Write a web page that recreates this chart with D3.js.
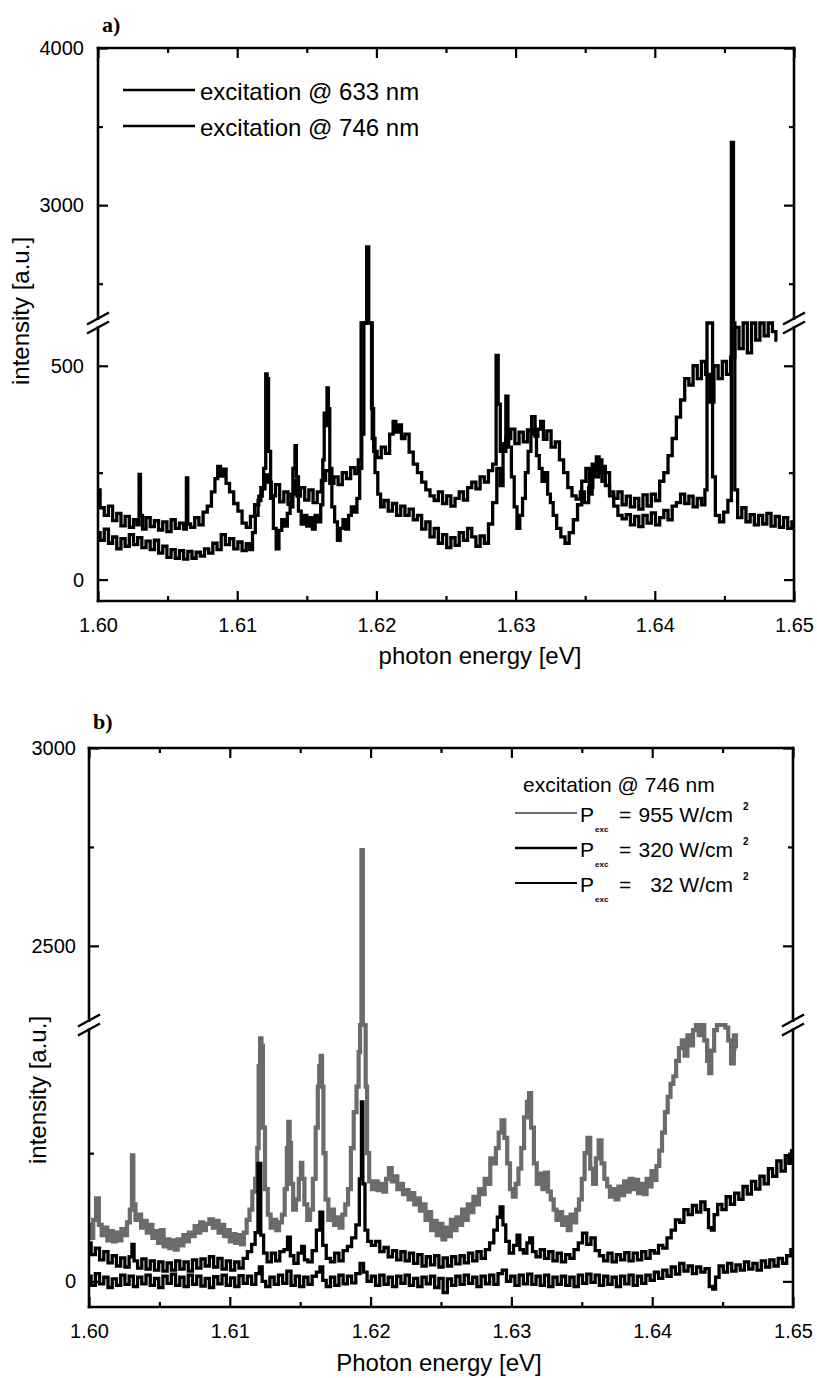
<!DOCTYPE html>
<html lang="en">
<head>
<meta charset="UTF-8">
<title>PL spectra</title>
<style>
    body {
        margin: 0;
        background-color: #fff;
    }
    svg text {
        font-family: "Liberation Sans", Arial, sans-serif;
        fill: #000;
    }
</style>
</head>
<body>
<svg id="chart" width="817" height="1378"></svg>

<script src="https://d3js.org/d3.v7.min.js"></script>
<script>
    // x axis (shared)
    const xTicks = [1.60, 1.61, 1.62, 1.63, 1.64, 1.65];
    const xMinorTicks = [1.605, 1.615, 1.625, 1.635, 1.645];

    // panel a: broken y axis
    const aLowTicks = [0, 500];
    const aLowMinor = [250];
    const aHighTicks = [3000, 4000];
    const aHighMinor = [2500, 3500];

    // panel b: broken y axis
    const bLowTicks = [0];
    const bLowMinor = [250];
    const bHighTicks = [2500, 3000];
    const bHighMinor = [2750];

    const aLegend = ["excitation @ 633 nm", "excitation @ 746 nm"];
    const bLegendTitle = "excitation @ 746 nm";
    const bPowers = ["955", "320", "32"];

    // panel a, excitation 633 nm  [photon energy eV, intensity]
    const a633 = [[1.6000,210],[1.6003,168],[1.6006,150],[1.6009,172],[1.6012,138],[1.6015,155],[1.6018,126],[1.6021,148],[1.6024,122],[1.6027,140],[1.6029,128],[1.6030,246],[1.6031,150],[1.6033,118],[1.6036,145],[1.6039,124],[1.6042,138],[1.6045,116],[1.6048,135],[1.6051,112],[1.6054,140],[1.6057,120],[1.6060,132],[1.6063,118],[1.6064,238],[1.6065,130],[1.6068,122],[1.6071,145],[1.6074,128],[1.6077,158],[1.6080,172],[1.6083,205],[1.6085,236],[1.6087,265],[1.6089,242],[1.6091,258],[1.6093,225],[1.6096,205],[1.6099,178],[1.6102,160],[1.6105,132],[1.6108,122],[1.6111,148],[1.6114,175],[1.6117,195],[1.6119,212],[1.6121,245],[1.6123,228],[1.6126,196],[1.6129,222],[1.6132,182],[1.6135,205],[1.6138,176],[1.6140,200],[1.6142,232],[1.6144,195],[1.6147,215],[1.6150,186],[1.6153,210],[1.6156,180],[1.6159,205],[1.6162,232],[1.6165,255],[1.6168,225],[1.6171,240],[1.6174,222],[1.6177,250],[1.6180,236],[1.6183,262],[1.6186,248],[1.6188,280],[1.6190,650],[1.6193,700],[1.6196,640],[1.6197,400],[1.6199,300],[1.6202,285],[1.6205,310],[1.6208,295],[1.6211,340],[1.6213,370],[1.6215,345],[1.6217,362],[1.6219,330],[1.6222,340],[1.6225,298],[1.6228,270],[1.6231,250],[1.6234,228],[1.6237,210],[1.6240,196],[1.6243,185],[1.6246,205],[1.6249,178],[1.6252,196],[1.6255,172],[1.6258,190],[1.6261,205],[1.6264,186],[1.6267,215],[1.6270,228],[1.6273,212],[1.6276,240],[1.6279,228],[1.6282,255],[1.6285,270],[1.6287,524],[1.6288,410],[1.6290,300],[1.6292,318],[1.6294,429],[1.6295,330],[1.6298,352],[1.6301,318],[1.6304,345],[1.6307,322],[1.6310,350],[1.6313,381],[1.6315,335],[1.6317,352],[1.6319,370],[1.6321,328],[1.6324,348],[1.6327,310],[1.6330,322],[1.6333,280],[1.6336,250],[1.6339,215],[1.6342,196],[1.6345,188],[1.6348,205],[1.6351,180],[1.6354,215],[1.6357,252],[1.6359,287],[1.6361,250],[1.6363,265],[1.6366,220],[1.6369,196],[1.6372,172],[1.6375,150],[1.6378,142],[1.6381,152],[1.6384,128],[1.6387,148],[1.6390,124],[1.6393,150],[1.6396,132],[1.6399,156],[1.6402,128],[1.6405,145],[1.6408,162],[1.6411,140],[1.6414,172],[1.6417,180],[1.6420,200],[1.6423,178],[1.6426,195],[1.6429,170],[1.6432,190],[1.6435,175],[1.6437,210],[1.6438,650],[1.6441,680],[1.6442,240],[1.6445,150],[1.6448,135],[1.6451,158],[1.6454,185],[1.6456,3400],[1.6457,600],[1.6458,210],[1.6461,145],[1.6464,168],[1.6467,135],[1.6470,152],[1.6473,128],[1.6476,150],[1.6479,130],[1.6482,155],[1.6485,125],[1.6488,148],[1.6491,122],[1.6494,145],[1.6497,120],[1.6500,135]];

    // panel a, excitation 746 nm
    const a746 = [[1.6000,110],[1.6003,92],[1.6006,118],[1.6009,85],[1.6012,100],[1.6015,72],[1.6018,96],[1.6021,78],[1.6024,105],[1.6027,82],[1.6030,98],[1.6033,75],[1.6036,90],[1.6039,70],[1.6042,92],[1.6045,62],[1.6048,78],[1.6051,52],[1.6054,70],[1.6057,50],[1.6060,68],[1.6063,48],[1.6066,66],[1.6069,50],[1.6072,64],[1.6075,55],[1.6078,72],[1.6081,62],[1.6084,85],[1.6087,70],[1.6090,105],[1.6093,82],[1.6096,96],[1.6099,72],[1.6102,88],[1.6105,68],[1.6108,84],[1.6110,70],[1.6112,110],[1.6114,150],[1.6116,185],[1.6118,215],[1.6120,260],[1.6121,481],[1.6122,470],[1.6123,300],[1.6125,190],[1.6127,120],[1.6129,72],[1.6131,115],[1.6133,140],[1.6135,125],[1.6137,155],[1.6139,170],[1.6141,260],[1.6142,313],[1.6143,240],[1.6145,160],[1.6147,130],[1.6149,150],[1.6151,125],[1.6153,145],[1.6155,118],[1.6157,150],[1.6159,135],[1.6161,175],[1.6162,280],[1.6163,389],[1.6164,360],[1.6165,448],[1.6166,400],[1.6167,260],[1.6169,170],[1.6171,135],[1.6173,92],[1.6175,120],[1.6177,140],[1.6179,118],[1.6181,150],[1.6183,170],[1.6185,158],[1.6187,190],[1.6189,260],[1.6190,340],[1.6192,650],[1.6194,2734],[1.6195,900],[1.6196,650],[1.6198,330],[1.6200,250],[1.6202,200],[1.6204,170],[1.6207,185],[1.6210,160],[1.6213,178],[1.6216,150],[1.6219,172],[1.6222,150],[1.6225,165],[1.6228,140],[1.6231,150],[1.6234,118],[1.6237,135],[1.6240,100],[1.6243,120],[1.6246,85],[1.6249,105],[1.6252,75],[1.6255,98],[1.6258,80],[1.6261,110],[1.6264,92],[1.6267,120],[1.6270,100],[1.6273,78],[1.6276,102],[1.6279,85],[1.6282,130],[1.6285,180],[1.6288,260],[1.6290,220],[1.6292,300],[1.6294,330],[1.6296,310],[1.6298,240],[1.6300,170],[1.6302,120],[1.6304,150],[1.6306,190],[1.6308,250],[1.6310,300],[1.6312,350],[1.6314,340],[1.6316,290],[1.6318,260],[1.6320,230],[1.6322,250],[1.6324,200],[1.6326,180],[1.6328,150],[1.6331,120],[1.6334,100],[1.6337,85],[1.6340,110],[1.6343,140],[1.6346,175],[1.6349,230],[1.6352,260],[1.6354,200],[1.6356,270],[1.6358,240],[1.6361,280],[1.6363,230],[1.6366,250],[1.6369,205],[1.6372,190],[1.6375,205],[1.6378,175],[1.6381,195],[1.6384,170],[1.6387,190],[1.6390,165],[1.6393,198],[1.6396,172],[1.6399,200],[1.6402,185],[1.6405,230],[1.6408,250],[1.6411,290],[1.6414,330],[1.6417,380],[1.6420,420],[1.6423,470],[1.6426,455],[1.6429,500],[1.6432,470],[1.6435,510],[1.6438,480],[1.6441,415],[1.6444,500],[1.6447,470],[1.6450,510],[1.6453,480],[1.6456,520],[1.6459,590],[1.6462,540],[1.6465,600],[1.6468,530],[1.6471,620],[1.6474,560],[1.6477,620],[1.6480,570],[1.6483,610],[1.6486,580],[1.6488,560]];

    // panel b, 746 nm at 955 W/cm2
    const b955 = [[1.6000,110],[1.6002,85],[1.6004,120],[1.6006,162],[1.6008,110],[1.6010,90],[1.6012,105],[1.6014,80],[1.6016,98],[1.6018,78],[1.6020,95],[1.6022,80],[1.6024,102],[1.6026,90],[1.6028,115],[1.6030,140],[1.6031,246],[1.6032,150],[1.6034,120],[1.6036,130],[1.6038,105],[1.6040,118],[1.6042,95],[1.6044,110],[1.6046,85],[1.6048,98],[1.6050,75],[1.6052,100],[1.6054,68],[1.6056,82],[1.6058,65],[1.6060,80],[1.6062,62],[1.6064,82],[1.6066,70],[1.6068,90],[1.6070,78],[1.6072,95],[1.6074,88],[1.6076,108],[1.6078,95],[1.6080,115],[1.6082,100],[1.6084,112],[1.6087,121],[1.6089,105],[1.6091,118],[1.6093,95],[1.6095,110],[1.6097,88],[1.6099,100],[1.6101,78],[1.6103,92],[1.6105,75],[1.6107,90],[1.6109,72],[1.6111,95],[1.6113,120],[1.6115,140],[1.6117,175],[1.6119,200],[1.6120,260],[1.6121,420],[1.6122,474],[1.6123,460],[1.6124,300],[1.6126,180],[1.6128,130],[1.6130,105],[1.6132,120],[1.6134,100],[1.6136,115],[1.6138,130],[1.6140,180],[1.6141,260],[1.6142,311],[1.6143,270],[1.6144,190],[1.6146,140],[1.6148,160],[1.6150,200],[1.6151,231],[1.6152,200],[1.6154,150],[1.6156,120],[1.6158,140],[1.6160,200],[1.6162,300],[1.6163,380],[1.6164,420],[1.6165,440],[1.6166,380],[1.6167,250],[1.6169,160],[1.6171,120],[1.6173,140],[1.6175,110],[1.6177,125],[1.6179,105],[1.6181,130],[1.6183,150],[1.6185,180],[1.6187,260],[1.6189,330],[1.6191,380],[1.6192,447],[1.6193,560],[1.6194,2742],[1.6195,900],[1.6196,560],[1.6197,380],[1.6198,250],[1.6200,195],[1.6202,180],[1.6204,195],[1.6206,178],[1.6208,190],[1.6210,175],[1.6212,200],[1.6214,221],[1.6216,195],[1.6218,205],[1.6220,180],[1.6222,190],[1.6224,170],[1.6226,178],[1.6228,160],[1.6230,172],[1.6232,150],[1.6234,162],[1.6236,138],[1.6238,150],[1.6240,120],[1.6242,135],[1.6244,100],[1.6246,118],[1.6248,90],[1.6250,112],[1.6252,82],[1.6254,105],[1.6256,88],[1.6258,120],[1.6260,100],[1.6262,125],[1.6264,110],[1.6266,140],[1.6268,120],[1.6270,150],[1.6272,135],[1.6274,165],[1.6276,150],[1.6278,180],[1.6280,170],[1.6282,200],[1.6284,190],[1.6286,240],[1.6288,230],[1.6290,260],[1.6292,290],[1.6294,314],[1.6296,280],[1.6298,230],[1.6300,180],[1.6302,165],[1.6304,190],[1.6306,220],[1.6308,260],[1.6310,320],[1.6312,350],[1.6313,367],[1.6315,300],[1.6317,230],[1.6319,190],[1.6321,210],[1.6323,180],[1.6325,212],[1.6327,175],[1.6329,160],[1.6331,140],[1.6333,120],[1.6335,135],[1.6337,110],[1.6339,125],[1.6341,100],[1.6343,130],[1.6345,115],[1.6347,140],[1.6349,160],[1.6351,200],[1.6353,250],[1.6355,280],[1.6357,220],[1.6359,190],[1.6361,240],[1.6363,275],[1.6365,230],[1.6367,200],[1.6369,185],[1.6371,165],[1.6373,180],[1.6375,160],[1.6377,185],[1.6379,168],[1.6381,195],[1.6383,175],[1.6385,200],[1.6387,180],[1.6389,198],[1.6391,172],[1.6393,190],[1.6395,170],[1.6397,200],[1.6399,185],[1.6400,215],[1.6402,198],[1.6404,225],[1.6406,255],[1.6408,290],[1.6410,330],[1.6412,360],[1.6414,385],[1.6416,400],[1.6418,430],[1.6420,455],[1.6422,470],[1.6424,440],[1.6426,480],[1.6428,460],[1.6430,490],[1.6432,510],[1.6434,480],[1.6436,500],[1.6438,470],[1.6440,430],[1.6441,406],[1.6443,450],[1.6445,490],[1.6447,520],[1.6449,500],[1.6451,530],[1.6453,495],[1.6455,470],[1.6457,425],[1.6459,480],[1.6460,455]];

    // panel b, 746 nm at 320 W/cm2
    const b320 = [[1.6000,75],[1.6003,52],[1.6006,65],[1.6009,42],[1.6012,58],[1.6015,36],[1.6018,50],[1.6021,30],[1.6024,46],[1.6027,28],[1.6030,48],[1.6031,72],[1.6033,40],[1.6036,26],[1.6039,44],[1.6042,24],[1.6045,40],[1.6048,22],[1.6051,38],[1.6054,20],[1.6057,36],[1.6060,22],[1.6063,40],[1.6066,24],[1.6069,38],[1.6072,20],[1.6075,42],[1.6078,26],[1.6081,44],[1.6084,30],[1.6087,48],[1.6090,28],[1.6093,45],[1.6096,24],[1.6099,40],[1.6102,22],[1.6105,38],[1.6108,26],[1.6111,45],[1.6114,58],[1.6117,72],[1.6119,95],[1.6121,230],[1.6123,90],[1.6125,55],[1.6128,38],[1.6131,55],[1.6134,40],[1.6137,58],[1.6140,62],[1.6142,86],[1.6144,50],[1.6147,35],[1.6150,55],[1.6152,68],[1.6154,42],[1.6157,38],[1.6160,60],[1.6163,100],[1.6165,135],[1.6167,70],[1.6170,45],[1.6173,38],[1.6176,55],[1.6179,40],[1.6182,60],[1.6185,68],[1.6188,85],[1.6191,110],[1.6193,200],[1.6194,350],[1.6195,190],[1.6197,100],[1.6199,78],[1.6202,70],[1.6205,78],[1.6208,58],[1.6211,66],[1.6214,48],[1.6217,60],[1.6220,42],[1.6223,58],[1.6226,40],[1.6229,55],[1.6232,35],[1.6235,52],[1.6238,30],[1.6241,48],[1.6244,32],[1.6247,50],[1.6250,28],[1.6253,46],[1.6256,30],[1.6259,48],[1.6262,34],[1.6265,50],[1.6268,36],[1.6271,55],[1.6274,40],[1.6277,58],[1.6280,45],[1.6283,62],[1.6286,75],[1.6289,100],[1.6291,125],[1.6293,145],[1.6295,110],[1.6297,78],[1.6300,55],[1.6303,70],[1.6305,90],[1.6307,62],[1.6310,55],[1.6312,75],[1.6314,85],[1.6316,58],[1.6319,48],[1.6322,62],[1.6325,45],[1.6328,58],[1.6331,40],[1.6334,55],[1.6337,38],[1.6340,52],[1.6343,45],[1.6346,62],[1.6349,75],[1.6352,94],[1.6355,72],[1.6358,85],[1.6361,60],[1.6364,50],[1.6367,40],[1.6370,55],[1.6373,38],[1.6376,52],[1.6379,42],[1.6382,56],[1.6385,40],[1.6388,55],[1.6391,42],[1.6394,58],[1.6397,45],[1.6400,60],[1.6403,55],[1.6406,70],[1.6409,65],[1.6412,85],[1.6415,100],[1.6418,120],[1.6421,115],[1.6424,140],[1.6427,130],[1.6430,148],[1.6433,135],[1.6436,155],[1.6439,140],[1.6441,105],[1.6443,100],[1.6445,130],[1.6448,150],[1.6451,140],[1.6454,165],[1.6457,150],[1.6460,172],[1.6463,160],[1.6466,185],[1.6469,170],[1.6472,195],[1.6475,180],[1.6478,205],[1.6481,190],[1.6484,220],[1.6487,205],[1.6490,235],[1.6493,215],[1.6496,245],[1.6498,230],[1.6500,255]];

    // panel b, 746 nm at 32 W/cm2
    const b32 = [[1.6000,10],[1.6003,-8],[1.6006,15],[1.6009,-5],[1.6012,8],[1.6015,-12],[1.6018,5],[1.6021,-8],[1.6024,12],[1.6027,-6],[1.6030,10],[1.6033,-10],[1.6036,8],[1.6039,-5],[1.6042,12],[1.6045,-8],[1.6048,6],[1.6051,-12],[1.6054,10],[1.6057,-4],[1.6060,14],[1.6063,-8],[1.6066,8],[1.6069,-10],[1.6072,12],[1.6075,-6],[1.6078,10],[1.6081,-9],[1.6084,6],[1.6087,-12],[1.6090,9],[1.6093,-5],[1.6096,12],[1.6099,-8],[1.6102,7],[1.6105,-10],[1.6108,11],[1.6111,-4],[1.6114,10],[1.6117,-6],[1.6120,15],[1.6122,28],[1.6124,0],[1.6127,-10],[1.6130,8],[1.6133,-6],[1.6136,12],[1.6139,-4],[1.6142,20],[1.6145,-8],[1.6148,10],[1.6151,-10],[1.6154,8],[1.6157,-6],[1.6160,10],[1.6163,18],[1.6165,28],[1.6167,2],[1.6170,-10],[1.6173,8],[1.6176,-8],[1.6179,12],[1.6182,-5],[1.6185,10],[1.6188,-3],[1.6191,15],[1.6194,35],[1.6196,18],[1.6199,0],[1.6202,10],[1.6205,-8],[1.6208,12],[1.6211,-6],[1.6214,8],[1.6217,-10],[1.6220,10],[1.6223,-4],[1.6226,12],[1.6229,-8],[1.6232,6],[1.6235,-10],[1.6238,8],[1.6241,-5],[1.6244,10],[1.6247,-12],[1.6250,6],[1.6253,-22],[1.6256,5],[1.6259,-8],[1.6262,10],[1.6265,-6],[1.6268,12],[1.6271,-4],[1.6274,8],[1.6277,-10],[1.6280,10],[1.6283,-5],[1.6286,12],[1.6289,-6],[1.6292,15],[1.6295,22],[1.6298,0],[1.6301,10],[1.6304,-8],[1.6307,12],[1.6310,-5],[1.6313,14],[1.6316,-6],[1.6319,10],[1.6322,-8],[1.6325,12],[1.6328,-10],[1.6331,8],[1.6334,-6],[1.6337,10],[1.6340,-8],[1.6343,8],[1.6346,-10],[1.6349,12],[1.6352,-4],[1.6355,14],[1.6358,-2],[1.6361,12],[1.6364,-8],[1.6367,10],[1.6370,-6],[1.6373,8],[1.6376,-10],[1.6379,10],[1.6382,-5],[1.6385,12],[1.6388,-8],[1.6391,10],[1.6394,-4],[1.6397,12],[1.6400,2],[1.6403,18],[1.6406,6],[1.6409,22],[1.6412,10],[1.6415,28],[1.6418,14],[1.6421,35],[1.6424,20],[1.6427,30],[1.6430,15],[1.6433,28],[1.6436,18],[1.6439,25],[1.6442,-10],[1.6444,-15],[1.6446,8],[1.6449,30],[1.6452,18],[1.6455,35],[1.6458,20],[1.6461,32],[1.6464,22],[1.6467,38],[1.6470,24],[1.6473,35],[1.6476,22],[1.6479,40],[1.6482,28],[1.6485,42],[1.6488,30],[1.6491,45],[1.6494,35],[1.6497,50],[1.6500,62]];

    const svg = d3.select("#chart");
    const FONT = '"Liberation Sans", Arial, sans-serif';

    function styleAxis(sel) {
        sel.attr("font-size", 20).attr("font-family", FONT);
        sel.select(".domain").remove();
        sel.selectAll(".tick line").attr("stroke", "#000").attr("stroke-width", 2.2);
        sel.selectAll(".tick text").attr("fill", "#000");
    }

    function drawPanel(p) {
        const g = svg.append("g");
        const x = d3.scaleLinear().domain([1.60, 1.65]).range([p.left, p.right]);
        const yLow = d3.scaleLinear().domain(p.lowDomain).range([p.bottom, p.brk]);
        const yHigh = d3.scaleLinear().domain(p.highDomain).range([p.brk, p.top]);
        // values hidden by the axis break sit on the break line
        const y = v => v <= p.lowDomain[1] ? yLow(v) : (v >= p.highDomain[0] ? yHigh(v) : p.brk);

        g.append("clipPath").attr("id", "clip-" + p.name)
          .append("rect")
          .attr("x", p.left).attr("y", p.top)
          .attr("width", p.right - p.left).attr("height", p.bottom - p.top);

        const line = d3.line()
          .x(d => x(d[0]))
          .y(d => y(d[1]))
          .curve(d3.curveStep);

        p.series.forEach(s => {
            g.append("path")
              .datum(s.data)
              .attr("d", line)
              .attr("fill", "none")
              .attr("stroke", s.color)
              .attr("stroke-width", s.width)
              .attr("stroke-linejoin", "miter")
              .attr("clip-path", "url(#clip-" + p.name + ")");
        });

        // bottom / top axes, ticks pointing inward
        g.append("g").attr("transform", `translate(0,${p.bottom})`)
          .call(d3.axisBottom(x).tickValues(xTicks).tickSize(-10).tickPadding(17).tickFormat(d3.format(".2f")))
          .call(styleAxis);
        g.append("g").attr("transform", `translate(0,${p.bottom})`)
          .call(d3.axisBottom(x).tickValues(xMinorTicks).tickSize(-5).tickFormat(""))
          .call(styleAxis);
        g.append("g").attr("transform", `translate(0,${p.top})`)
          .call(d3.axisTop(x).tickValues(xTicks).tickSize(-10).tickFormat(""))
          .call(styleAxis);
        g.append("g").attr("transform", `translate(0,${p.top})`)
          .call(d3.axisTop(x).tickValues(xMinorTicks).tickSize(-5).tickFormat(""))
          .call(styleAxis);

        // left / right axes, one per segment
        [[yLow, p.lowTicks, p.lowMinor], [yHigh, p.highTicks, p.highMinor]].forEach(([sc, major, minor]) => {
            g.append("g").attr("transform", `translate(${p.left},0)`)
              .call(d3.axisLeft(sc).tickValues(major).tickSize(-10).tickPadding(p.labelPad).tickFormat(d3.format("d")))
              .call(styleAxis);
            g.append("g").attr("transform", `translate(${p.left},0)`)
              .call(d3.axisLeft(sc).tickValues(minor).tickSize(-5).tickFormat(""))
              .call(styleAxis);
            g.append("g").attr("transform", `translate(${p.right},0)`)
              .call(d3.axisRight(sc).tickValues(major).tickSize(-10).tickFormat(""))
              .call(styleAxis);
            g.append("g").attr("transform", `translate(${p.right},0)`)
              .call(d3.axisRight(sc).tickValues(minor).tickSize(-5).tickFormat(""))
              .call(styleAxis);
        });

        // frame with gaps at the break
        const gap = 4.5;
        const frame = [
            [p.left, p.top, p.right, p.top],
            [p.left, p.bottom, p.right, p.bottom],
            [p.left, p.bottom, p.left, p.brk + gap],
            [p.left, p.brk - gap, p.left, p.top],
            [p.right, p.bottom, p.right, p.brk + gap],
            [p.right, p.brk - gap, p.right, p.top]
        ];
        g.selectAll(".frame").data(frame).enter().append("line")
          .attr("x1", d => d[0]).attr("y1", d => d[1])
          .attr("x2", d => d[2]).attr("y2", d => d[3])
          .attr("stroke", "#000").attr("stroke-width", 2.6)
          .attr("stroke-linecap", "square");

        // break marks
        [p.left, p.right].forEach(ax => {
            [-gap, gap].forEach(off => {
                g.append("line")
                  .attr("x1", ax - 11).attr("y1", p.brk + off + 6)
                  .attr("x2", ax + 11).attr("y2", p.brk + off - 6)
                  .attr("stroke", "#000").attr("stroke-width", 2.4);
            });
        });

        // axis titles
        g.append("text")
          .attr("x", p.xTitleX).attr("y", p.xTitleY)
          .attr("text-anchor", "middle").attr("font-size", 24)
          .text(p.xTitle);
        g.append("text")
          .attr("transform", `translate(${p.yTitleX},${p.yTitleY}) rotate(-90)`)
          .attr("text-anchor", "middle").attr("font-size", 24)
          .text("intensity [a.u.]");
        g.append("text")
          .attr("x", p.tagX).attr("y", p.tagY)
          .style("font-family", '"Liberation Serif", "DejaVu Serif", serif')
          .attr("font-weight", "bold").attr("font-size", 22)
          .text(p.tag);

        return { x, y };
    }

    drawPanel({
        name: "a", tag: "a)", tagX: 102, tagY: 32,
        left: 98, right: 794, top: 48, bottom: 601, brk: 323,
        lowDomain: [-50, 600], highDomain: [2250, 4000],
        lowTicks: aLowTicks, lowMinor: aLowMinor, highTicks: aHighTicks, highMinor: aHighMinor,
        labelPad: 14,
        xTitle: "photon energy [eV]", xTitleX: 480, xTitleY: 664,
        yTitleX: 29, yTitleY: 311,
        series: [
            { data: a633, color: "#000", width: 3.3 },
            { data: a746, color: "#000", width: 3.3 }
        ]
    });

    drawPanel({
        name: "b", tag: "b)", tagX: 93, tagY: 729,
        left: 89, right: 793, top: 748, bottom: 1307, brk: 1025,
        lowDomain: [-50, 500], highDomain: [2300, 3000],
        lowTicks: bLowTicks, lowMinor: bLowMinor, highTicks: bHighTicks, highMinor: bHighMinor,
        labelPad: 13,
        xTitle: "Photon energy [eV]", xTitleX: 439, xTitleY: 1371,
        yTitleX: 46, yTitleY: 1090,
        series: [
            { data: b955, color: "#6b6b6b", width: 4.2 },
            { data: b320, color: "#000", width: 3.3 },
            { data: b32, color: "#000", width: 3.3 }
        ]
    });

    // legend a
    const legA = svg.append("g");
    aLegend.forEach((label, i) => {
        const ly = 90 + i * 36;
        legA.append("line")
          .attr("x1", 123).attr("x2", 195).attr("y1", ly).attr("y2", ly)
          .attr("stroke", "#000").attr("stroke-width", 2.5);
        legA.append("text")
          .attr("x", 200).attr("y", ly + 10)
          .attr("font-size", 24)
          .text(label);
    });

    // legend b
    const legB = svg.append("g");
    legB.append("text")
      .attr("x", 523).attr("y", 792)
      .attr("font-size", 21)
      .text(bLegendTitle);
    const legStyles = [
        { color: "#6b6b6b", width: 2 },
        { color: "#000", width: 2.6 },
        { color: "#000", width: 2.2 }
    ];
    bPowers.forEach((pw, i) => {
        const by = 822 + i * 35;
        legB.append("line")
          .attr("x1", 515).attr("x2", 577).attr("y1", by - 9).attr("y2", by - 9)
          .attr("stroke", legStyles[i].color).attr("stroke-width", legStyles[i].width);
        legB.append("text").attr("x", 580).attr("y", by).attr("font-size", 21).text("P");
        legB.append("text").attr("x", 595).attr("y", by + 10)
          .attr("font-size", 8).attr("font-weight", "bold").text("exc");
        legB.append("text").attr("x", 619).attr("y", by).attr("font-size", 21).text("=");
        legB.append("text").attr("x", 733).attr("y", by)
          .attr("text-anchor", "end").attr("font-size", 21).text(pw + " W/cm");
        legB.append("text").attr("x", 743).attr("y", by - 12)
          .attr("font-size", 10).attr("font-weight", "bold").text("2");
    });
</script>
</body>
</html>
